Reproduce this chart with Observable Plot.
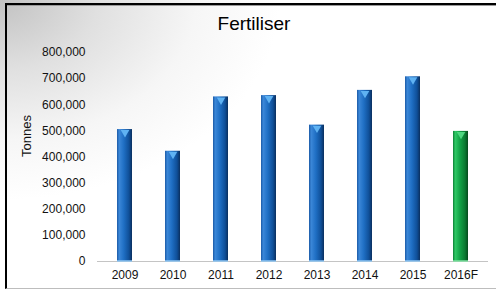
<!DOCTYPE html>
<html>
<head>
<meta charset="utf-8">
<script src="https://cdn.jsdelivr.net/npm/d3@7"></script>
<script src="https://cdn.jsdelivr.net/npm/@observablehq/plot@0.6"></script>
<style>
  html, body { margin: 0; padding: 0; }
  body {
    width: 496px; height: 290px; overflow: hidden; position: relative;
    background: radial-gradient(ellipse 280px 200px at 0px 0px, #c2c2c2 0%, #e0e0e0 35%, #f6f6f6 70%, #ffffff 100%);
    font-family: "Liberation Sans", Arial, sans-serif;
  }
  #frame {
    position: absolute; left: 5px; top: 3px; width: 520px; height: 283px;
    border-left: 2px solid #000; border-top: 2px solid #000; border-bottom: 1px solid #bdbdbd;
    box-shadow: inset 0 1px 0 #9a9a9a;
  }
  #title {
    position: absolute; left: 0; top: 13px; width: 508px; text-align: center;
    font-size: 19px; color: #000;
  }
  #chart { position: absolute; left: 0; top: 0; }
</style>
</head>
<body>
<div id="frame"></div>
<div id="title">Fertiliser</div>
<div id="chart"></div>
<script>
const years = ["2009", "2010", "2011", "2012", "2013", "2014", "2015", "2016F"];
const tonnes = [505000, 422000, 630000, 635000, 522000, 655000, 707000, 498000];
const forecast = [false, false, false, false, false, false, false, true];
const yTicks = [0, 100000, 200000, 300000, 400000, 500000, 600000, 700000, 800000];

const data = years.map((year, i) => ({year, value: tonnes[i], forecast: forecast[i]}));
const actual = data.filter(d => !d.forecast);
const fc = data.filter(d => d.forecast);

const plot = Plot.plot({
  width: 496,
  height: 290,
  marginLeft: 97,
  marginRight: 8,
  marginTop: 52,
  marginBottom: 29,
  style: {background: "transparent", fontFamily: "'Liberation Sans', Arial, sans-serif", fontSize: "12px", color: "#111", overflow: "visible"},
  x: {domain: years, paddingInner: 0.69, paddingOuter: 0.345, label: null, tickSize: 0, tickPadding: 9},
  y: {domain: [0, 800000], ticks: yTicks, tickFormat: d3.format(","), label: null, tickSize: 0, tickPadding: 12},
  marks: [
    Plot.ruleY([0], {stroke: "#c4c4c4", strokeWidth: 1}),
    Plot.barY(actual, {x: "year", y: "value", fill: "url(#gBlue)"}),
    Plot.barY(fc, {x: "year", y: "value", fill: "url(#gGreen)"}),
    Plot.tickY(actual, {x: "year", y: "value", stroke: "url(#gBlueTop)", strokeWidth: 2, dy: 1}),
    Plot.tickY(fc, {x: "year", y: "value", stroke: "url(#gGreenTop)", strokeWidth: 2, dy: 1}),
    Plot.dot(actual, {x: "year", y: "value", symbol: "triangle", rotate: 180, r: 3.2, fill: "#5fb2f2", dy: 3}),
    Plot.dot(fc, {x: "year", y: "value", symbol: "triangle", rotate: 180, r: 3.2, fill: "#4fd680", dy: 3}),
    Plot.tickY(actual, {x: "year", y: 0, stroke: "#8fc6f2", strokeWidth: 1.5, dy: -0.5}),
    Plot.tickY(fc, {x: "year", y: 0, stroke: "#7fe0a0", strokeWidth: 1.5, dy: -0.5}),
    Plot.text(["Tonnes"], {frameAnchor: "left", textAnchor: "middle", rotate: -90, dx: -71, dy: -21, fontSize: 13, fill: "#111"})
  ]
});

const defs = d3.select(plot).insert("defs", ":first-child");
function grad(id, stops) {
  const g = defs.append("linearGradient").attr("id", id).attr("x1", "0").attr("x2", "1").attr("y1", "0").attr("y2", "0");
  stops.forEach(([o, c]) => g.append("stop").attr("offset", o).attr("stop-color", c));
}
grad("gBlue", [["0", "#1b5aa6"], ["0.15", "#3b87d8"], ["0.45", "#1f6fc4"], ["0.8", "#0f4f98"], ["1", "#0a2f5e"]]);
grad("gGreen", [["0", "#0c7f35"], ["0.15", "#2fc865"], ["0.45", "#13a447"], ["0.8", "#0b7a32"], ["1", "#064a1d"]]);
grad("gBlueTop", [["0", "#3f8ad8"], ["0.5", "#5aa8ee"], ["1", "#2a6cb8"]]);
grad("gGreenTop", [["0", "#2fb860"], ["0.5", "#52d882"], ["1", "#1c8c45"]]);

document.getElementById("chart").appendChild(plot);
</script>
</body>
</html>
